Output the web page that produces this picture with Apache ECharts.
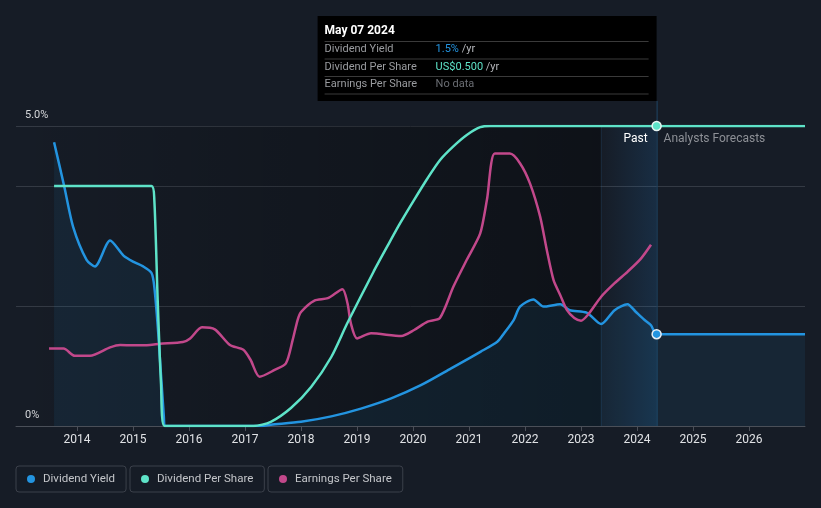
<!DOCTYPE html>
<html><head><meta charset="utf-8">
<script src="https://cdn.jsdelivr.net/npm/echarts@6/dist/echarts.min.js"></script>
<style>html,body{margin:0;padding:0;background:#161c26;}#c{width:821px;height:508px;}</style>
</head><body><div id="c"></div><script>
// ---- data ----
const yearTicks = [2014,2015,2016,2017,2018,2019,2020,2021,2022,2023,2024,2025,2026];
const yLabels = ['0%','5.0%'];
const xMin = 2012.91, xMax = 2027.0;
const nowYear = 2024.35, bandStart = 2023.35;

// Dividend Yield (%)
const yieldData = [
 [2013.59,4.73],[2013.77,4.0],[2013.93,3.32],[2014.17,2.77],[2014.32,2.66],[2014.59,3.09],
 [2014.83,2.84],[2015.0,2.74],[2015.18,2.66],[2015.33,2.55],[2015.38,2.32],[2015.45,1.55],
 [2015.55,0.16],[2015.58,0],[2017.3,0],[2017.46,0.02],[2018.0,0.07],[2018.54,0.16],
 [2019.07,0.29],[2019.61,0.46],[2020.14,0.68],[2020.68,0.96],[2021.21,1.24],[2021.51,1.41],
 [2021.63,1.55],[2021.8,1.77],[2021.91,1.99],[2022.15,2.11],[2022.33,1.99],[2022.63,2.03],
 [2022.8,1.93],[2023.1,1.89],[2023.36,1.7],[2023.6,1.93],[2023.83,2.03],[2023.98,1.9],
 [2024.13,1.77],[2024.25,1.68],[2024.35,1.53],[2027.0,1.53]
];
// Dividend Per Share (US$)
const dpsData = [
 [2013.59,0.4],[2015.33,0.4],[2015.38,0.377],[2015.44,0.21],[2015.5,0.07],[2015.56,0],
 [2017.15,0],[2017.46,0.007],[2017.82,0.03],[2018.18,0.065],[2018.54,0.115],[2018.83,0.172],
 [2019.3,0.258],[2019.55,0.301],[2019.77,0.338],[2020.02,0.377],[2020.26,0.413],[2020.48,0.443],
 [2020.72,0.466],[2020.96,0.485],[2021.2,0.498],[2021.38,0.5],[2024.35,0.5],[2027.0,0.5]
];
// Earnings Per Share (relative scale)
const epsData = [
 [2013.5,1.29],[2013.76,1.29],[2013.96,1.17],[2014.23,1.17],[2014.59,1.31],[2014.77,1.35],
 [2015.0,1.345],[2015.3,1.35],[2015.48,1.37],[2015.89,1.40],[2016.02,1.46],[2016.23,1.645],
 [2016.46,1.61],[2016.73,1.35],[2016.97,1.27],[2017.1,1.1],[2017.26,0.82],[2017.52,0.93],
 [2017.73,1.045],[2017.85,1.43],[2017.94,1.77],[2018.0,1.9],[2018.24,2.09],[2018.48,2.13],
 [2018.74,2.28],[2018.83,2.045],[2018.89,1.71],[2019.0,1.46],[2019.25,1.545],[2019.79,1.5],
 [2020.02,1.6],[2020.26,1.74],[2020.48,1.8],[2020.72,2.32],[2020.96,2.77],[2021.2,3.21],
 [2021.32,3.77],[2021.46,4.54],[2021.73,4.54],[2021.91,4.38],[2022.09,4.04],[2022.27,3.49],
 [2022.39,2.93],[2022.51,2.43],[2022.63,2.18],[2022.75,1.93],[2022.88,1.8],[2023.0,1.755],
 [2023.12,1.85],[2023.36,2.155],[2023.6,2.38],[2023.83,2.57],[2024.07,2.79],[2024.25,3.02]
];
const nowYield = 1.53, nowDps = 0.5;
const tipDate = 'May 07 2024';
const tipRows = [
 ['Dividend Yield','1.5%',' /yr','#2394e0'],
 ['Dividend Per Share','US$0.500',' /yr','#5ee3c8'],
 ['Earnings Per Share','No data','','#6b6e74']
];
const names = ['Dividend Yield','Dividend Per Share','Earnings Per Share'];
const colors = ['#2394e0','#5ee3c8','#c2488b'];

const FONT = 'Roboto, sans-serif';
const gridC = '#343a44';
const SMOOTH = 0.25;
const chart = echarts.init(document.getElementById('c'));

function legendAt(left, i){
  return {
    data:[{name:names[i], itemStyle:{color:colors[i]}}],
    left:left, top:466, orient:'horizontal',
    icon:'circle', itemWidth:8, itemHeight:8,
    padding:[7,11,7,11], borderColor:'#3b404a', borderWidth:1, borderRadius:3,
    selectedMode:false,
    textStyle:{color:'#c4c6ca', fontSize:11.5, fontFamily:FONT, padding:[0,0,0,3]}
  };
}

chart.setOption({
  backgroundColor:'#161c26',
  animation:false,
  grid:{left:16, right:16, top:126, bottom:82},
  legend:[legendAt(16,0), legendAt(130,1), legendAt(268,2)],
  xAxis:{
    type:'value', min:xMin, max:xMax,
    axisLine:{lineStyle:{color:'#4a4f58'}},
    axisTick:{show:true, length:5, lineStyle:{color:'#4a4f58'}, customValues:yearTicks},
    axisLabel:{color:'#e0e2e5', fontSize:12, fontFamily:FONT, margin:8, customValues:yearTicks,
      formatter:v=>String(Math.round(v))},
    splitLine:{show:false}
  },
  yAxis:[
    {type:'value', min:0, max:5, interval:1,
     axisLine:{show:false}, axisTick:{show:false},
     axisLabel:{inside:true, margin:9, verticalAlign:'bottom', padding:[0,0,5,0], color:'#d6d8db', fontSize:11, fontFamily:FONT,
       formatter:v=> v===0 ? yLabels[0] : (v===5 ? yLabels[1] : '')},
     splitLine:{show:true, lineStyle:{color:[gridC,'rgba(0,0,0,0)',gridC,'rgba(0,0,0,0)',gridC,gridC], width:1}}
    },
    {type:'value', min:0, max:0.5, show:false, splitLine:{show:false}},
    {type:'value', min:0, max:5, show:false, splitLine:{show:false}}
  ],
  series:[
    {name:names[0], type:'line', yAxisIndex:0, data:yieldData, showSymbol:false,
     smooth:SMOOTH, z:3,
     lineStyle:{color:colors[0], width:2.5}, itemStyle:{color:colors[0]},
     areaStyle:{color:'rgba(35,148,224,0.12)'},
     markArea:{silent:true, data:[
       [{xAxis:xMin, itemStyle:{color:{type:'linear',x:0,y:0,x2:1,y2:0,colorStops:[
          {offset:0,color:'rgba(0,0,0,0)'},{offset:1,color:'rgba(0,0,0,0.38)'}]}}},{xAxis:bandStart}],
       [{xAxis:bandStart, itemStyle:{borderWidth:0, color:{type:'linear',x:0,y:0,x2:1,y2:0,colorStops:[
          {offset:0,color:'rgba(35,130,210,0.0)'},{offset:1,color:'rgba(35,130,210,0.17)'}]}}},{xAxis:nowYear}]
     ]},
     markPoint:{silent:true, symbol:'circle', symbolSize:9, label:{show:false},
       itemStyle:{color:colors[0], borderColor:'#e8eef5', borderWidth:1.5},
       data:[{coord:[nowYear, nowYield]}]}
    },
    {name:names[1], type:'line', yAxisIndex:1, data:dpsData, showSymbol:false,
     smooth:SMOOTH, z:4,
     lineStyle:{color:colors[1], width:2.5}, itemStyle:{color:colors[1]},
     markPoint:{silent:true, symbol:'circle', symbolSize:9, label:{show:false},
       itemStyle:{color:colors[1], borderColor:'#e8f5f2', borderWidth:1.5},
       data:[{coord:[nowYear, nowDps]}]}
    },
    {name:names[2], type:'line', yAxisIndex:2, data:epsData, showSymbol:false,
     smooth:SMOOTH, z:3,
     lineStyle:{color:colors[2], width:2.5}, itemStyle:{color:colors[2]}}
  ]
});

// overlay: now line, past/forecast labels, tooltip box
const nowX = chart.convertToPixel({xAxisIndex:0}, nowYear);
const bandX = chart.convertToPixel({xAxisIndex:0}, bandStart);
const topY = chart.convertToPixel({yAxisIndex:0}, 5);
const botY = chart.convertToPixel({yAxisIndex:0}, 0);
const tipW = 339, tipTop = 16, tipH = 85;
const tipL = nowX - tipW;
const g = [];
g.push({type:'line', z:1, silent:true, shape:{x1:nowX+0.5, y1:tipTop+tipH, x2:nowX+0.5, y2:botY}, style:{stroke:'#1f4566', lineWidth:1}});
g.push({type:'line', z:1, silent:true, shape:{x1:Math.round(bandX)+0.5, y1:topY, x2:Math.round(bandX)+0.5, y2:botY}, style:{stroke:'rgba(40,100,150,0.18)', lineWidth:1}});
g.push({type:'text', z:10, x:nowX-9, y:topY+13, style:{text:'Past', fill:'#ffffff', font:'12px '+FONT, align:'right', verticalAlign:'middle'}});
g.push({type:'text', z:10, x:nowX+7, y:topY+13, style:{text:'Analysts Forecasts', fill:'#8d9096', font:'12px '+FONT, align:'left', verticalAlign:'middle'}});
g.push({type:'rect', z:20, shape:{x:tipL, y:tipTop, width:tipW, height:tipH}, style:{fill:'#000000'}});
g.push({type:'text', z:21, x:tipL+7, y:tipTop+15, style:{text:tipDate, fill:'#ffffff', font:'bold 12px '+FONT, verticalAlign:'middle'}});
const sepY = [41, 58.5, 76, 93.5];
sepY.forEach(y=>g.push({type:'line', z:21, shape:{x1:tipL+7, y1:y+0.5, x2:nowX-8, y2:y+0.5}, style:{stroke:'#3a3a3a', lineWidth:1}}));
tipRows.forEach((r,i)=>{
  const cy = sepY[i] + 8.5;
  g.push({type:'text', z:21, x:tipL+7, y:cy, style:{text:r[0], fill:'#9a9ca0', font:'11px '+FONT, verticalAlign:'middle'}});
  g.push({type:'text', z:21, x:tipL+118, y:cy, style:{rich:{a:{fill:r[3], font:'11px '+FONT}, b:{fill:'#b4b6ba', font:'11px '+FONT}}, text:'{a|'+r[1]+'}{b|'+r[2]+'}', verticalAlign:'middle'}});
});
chart.setOption({graphic:g});
</script></body></html>
